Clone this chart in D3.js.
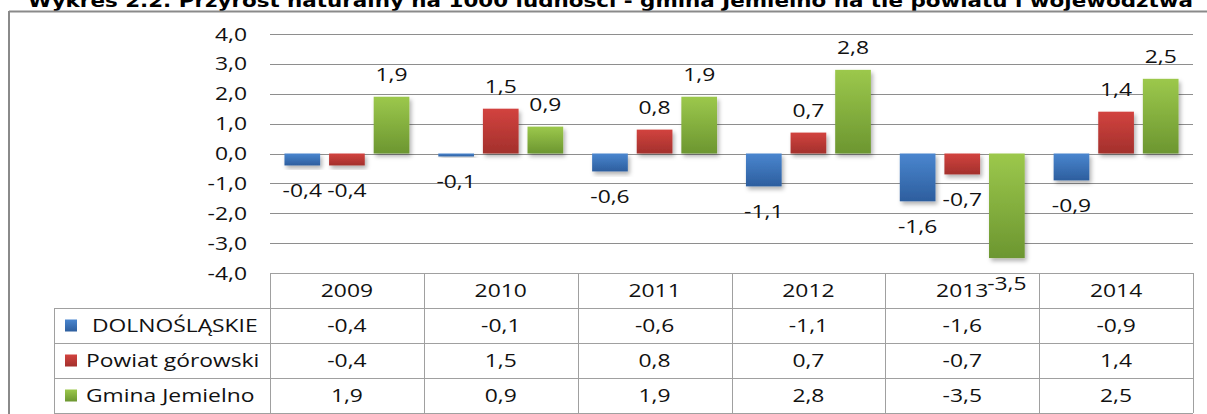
<!DOCTYPE html>
<html><head><meta charset="utf-8">
<script src="https://cdn.jsdelivr.net/npm/d3@7"></script>
<style>
html,body{margin:0;padding:0;background:#fff;overflow:hidden;}
svg{display:block;}
text{white-space:pre;}
</style></head>
<body>
<svg id="c" width="1207" height="414"></svg>
<script>
const title = "Wykres 2.2. Przyrost naturalny na 1000 ludności - gmina Jemielno na tle powiatu i województwa";
const years = ["2009","2010","2011","2012","2013","2014"];
const seriesNames = [" DOLNOŚLĄSKIE","Powiat górowski","Gmina Jemielno"];
const dolnoslaskie = [-0.4,-0.1,-0.6,-1.1,-1.6,-0.9];
const powiatGorowski = [-0.4,1.5,0.8,0.7,-0.7,1.4];
const gminaJemielno = [1.9,0.9,1.9,2.8,-3.5,2.5];
const yTicks = [-4,-3,-2,-1,0,1,2,3,4];
const seriesColors = [["#4a86cf","#2d5e9e"],["#d2433f","#a3302c"],["#9cc84c","#6c9630"]];

const seriesValues = [dolnoslaskie, powiatGorowski, gminaJemielno];
const svg = d3.select("#c");
const fmt = v => d3.format(".1f")(v).replace(".", ",").replace("\u2212", "-");
const FONT = "'Open Sans', sans-serif";
const SX = 1.27;

const pLeft = 270, pRight = 1193, pTop = 34, pBottom = 273;
const rowH = 35;

const x0 = d3.scaleBand().domain(years).range([pLeft, pRight]).padding(0);
const bw = x0.bandwidth();
const x1 = d3.scaleBand().domain(d3.range(seriesNames.length))
  .range([bw*0.094, bw*0.906]).paddingInner(0.2).paddingOuter(0);
const y = d3.scaleLinear().domain([-4,4]).range([pBottom, pTop]);

const defs = svg.append("defs");
seriesColors.forEach((c,i)=>{
  const g = defs.append("linearGradient").attr("id","grad"+i)
    .attr("x1",0).attr("y1",0).attr("x2",0).attr("y2",1);
  g.append("stop").attr("offset","0%").attr("stop-color",c[0]);
  g.append("stop").attr("offset","100%").attr("stop-color",c[1]);
});
const f = defs.append("filter").attr("id","sh").attr("x","-20%").attr("y","-20%").attr("width","150%").attr("height","150%");
f.append("feDropShadow").attr("dx",2).attr("dy",3).attr("stdDeviation",2).attr("flood-color","#000").attr("flood-opacity",0.3);

function txt(parent, s, x, yy, anchor, size, opts={}) {
  return parent.append("text")
    .attr("transform", `translate(${x},${yy}) scale(${opts.sx||SX},1)`)
    .attr("text-anchor", anchor)
    .attr("font-family", opts.family||FONT)
    .attr("font-size", size)
    .attr("font-weight", opts.weight||"normal")
    .attr("fill", opts.fill||"#111")
    .text(s);
}

// Title (partly cut off at top, as in the source)
svg.append("text").attr("x",28).attr("y",6.5)
  .attr("font-family","'DejaVu Sans', Verdana, sans-serif").attr("font-weight","bold")
  .attr("font-size",18).attr("textLength",1165).attr("lengthAdjust","spacingAndGlyphs")
  .attr("fill","#000").text(title);

// Outer frame
svg.append("line").attr("x1",9).attr("x2",1207).attr("y1",11.5).attr("y2",11.5).attr("stroke","#8a8a8a").attr("stroke-width",2);
svg.append("line").attr("x1",9).attr("x2",9).attr("y1",11).attr("y2",414).attr("stroke","#8a8a8a").attr("stroke-width",2);

// Gridlines
const grid = svg.append("g");
grid.selectAll("line").data(yTicks.filter(t=>t>-4)).join("line")
  .attr("x1",pLeft).attr("x2",pRight)
  .attr("y1",d=>Math.round(y(d))+0.5).attr("y2",d=>Math.round(y(d))+0.5)
  .attr("stroke","#8e8e8e").attr("stroke-width",1);

// Y tick labels
const yl = svg.append("g");
yTicks.forEach(t=>{
  txt(yl, fmt(t), 247, y(t)+6.5, "end", 18);
});

// Bars
const bars = svg.append("g");
years.forEach((yr,i)=>{
  seriesValues.forEach((vals,s)=>{
    const v = vals[i];
    bars.append("rect")
      .attr("x", x0(yr)+x1(s)).attr("width", x1.bandwidth())
      .attr("y", y(Math.max(0,v))).attr("height", Math.abs(y(v)-y(0)))
      .attr("fill", `url(#grad${s})`).attr("filter","url(#sh)");
  });
});

// Data table
const tbl = svg.append("g");
const lc = "#a0a0a0";
const tableTop = y(-4);
tbl.append("line").attr("x1",pLeft).attr("x2",pRight).attr("y1",Math.round(tableTop)+0.5).attr("y2",Math.round(tableTop)+0.5).attr("stroke",lc);
for (let r=1;r<=4;r++){
  const yy = Math.round(tableTop + r*rowH)+0.5;
  tbl.append("line").attr("x1",54).attr("x2",pRight).attr("y1",yy).attr("y2",yy).attr("stroke",lc);
}
years.concat(["__end"]).forEach((yr,i)=>{
  const xx = Math.round(i<years.length ? x0(yr) : pRight)+0.5;
  tbl.append("line").attr("x1",xx).attr("x2",xx).attr("y1",tableTop).attr("y2",tableTop+4*rowH).attr("stroke",lc);
});
tbl.append("line").attr("x1",54.5).attr("x2",54.5).attr("y1",tableTop+rowH).attr("y2",tableTop+4*rowH).attr("stroke",lc);

years.forEach((yr,i)=>{
  const cx = x0(yr)+bw/2;
  txt(tbl, yr, cx, tableTop+rowH/2+6.5, "middle", 18);
  seriesValues.forEach((vals,s)=>{
    txt(tbl, fmt(vals[i]), cx, tableTop+(s+1)*rowH+rowH/2+6.5, "middle", 18);
  });
});
seriesNames.forEach((n,s)=>{
  const cy = tableTop+(s+1)*rowH+rowH/2;
  tbl.append("rect").attr("x",65).attr("y",cy-6).attr("width",12).attr("height",12).attr("fill",`url(#grad${s})`);
  txt(tbl, n, 86, cy+6.5, "start", 18);
});

// Data labels (drawn last)
const labels = svg.append("g");
years.forEach((yr,i)=>{
  seriesValues.forEach((vals,s)=>{
    const v = vals[i];
    const cx = x0(yr)+x1(s)+x1.bandwidth()/2;
    const yy = v>=0 ? y(v)-15.5 : y(v)+32;
    txt(labels, fmt(v), cx, yy, "middle", 18);
  });
});
</script>
</body></html>
